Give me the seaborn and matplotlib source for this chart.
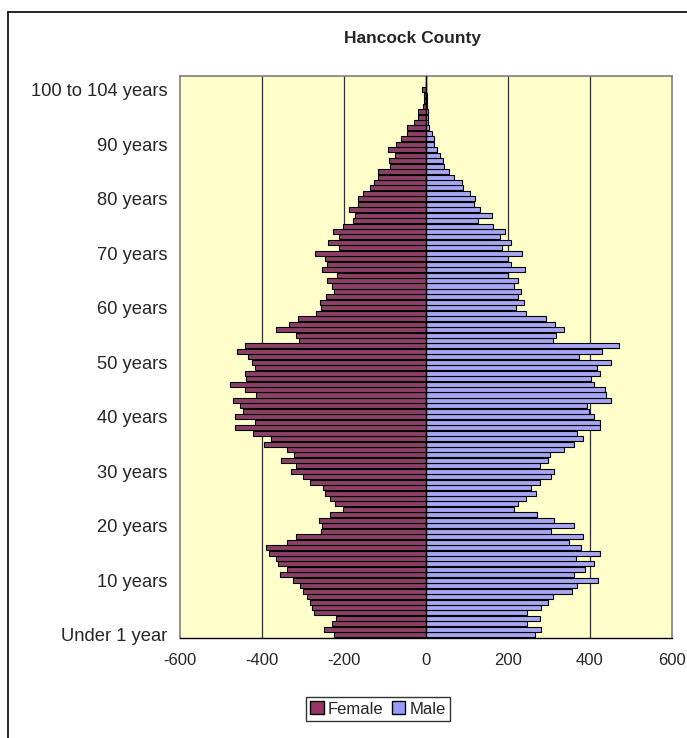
import matplotlib
matplotlib.use("Agg")
import matplotlib.pyplot as plt
from matplotlib.lines import Line2D
from matplotlib.patches import Patch
import numpy as np
import pandas as pd
import seaborn as sns

# Age categories: single years 0-99, then grouped upper ages
age_labels = (["Under 1 year", "1 year"] + [f"{a} years" for a in range(2, 100)]
              + ["100 to 104 years", "105 to 109 years", "110 years and over"])

female = [224, 248, 230, 220, 274, 277, 284, 291, 299, 308,
          324, 357, 340, 360, 367, 382, 390, 338, 316, 255,
          254, 261, 235, 203, 221, 235, 247, 252, 284, 299,
          330, 316, 353, 323, 338, 394, 379, 421, 465, 416,
          466, 446, 454, 470, 415, 441, 477, 438, 441, 416,
          424, 433, 460, 441, 310, 317, 365, 334, 311, 268,
          255, 259, 245, 224, 230, 242, 218, 253, 241, 247,
          271, 211, 239, 211, 227, 202, 179, 172, 189, 166,
          166, 153, 137, 128, 116, 116, 88, 91, 75, 93,
          72, 62, 47, 47, 29, 20, 20, 7, 5, 6,
          10, 0, 0]

male = [267, 281, 246, 277, 246, 281, 297, 309, 356, 368,
        419, 361, 387, 410, 365, 425, 378, 348, 384, 306,
        362, 311, 270, 214, 224, 243, 268, 257, 279, 304,
        312, 277, 298, 303, 337, 361, 382, 368, 425, 425,
        409, 397, 392, 451, 438, 436, 409, 402, 424, 416,
        451, 372, 429, 471, 309, 316, 336, 315, 292, 243,
        220, 238, 225, 231, 214, 225, 201, 242, 207, 200,
        235, 185, 207, 181, 193, 163, 126, 160, 131, 118,
        120, 107, 90, 87, 69, 56, 44, 42, 35, 27,
        20, 20, 15, 8, 6, 5, 4, 3, 2, 2,
        1, 0, 0]

x_ticks = [-600, -400, -200, 0, 200, 400, 600]

n = len(age_labels)
pos = np.arange(n)
df = pd.DataFrame({
    "pos": np.concatenate([pos, pos]),
    "value": np.concatenate([-np.array(female), np.array(male)]),
    "sex": ["Female"] * n + ["Male"] * n,
})

sns.set_style("white")
plt.rcParams["font.family"] = ["Liberation Sans", "DejaVu Sans"]

colors = {"Female": "#993366", "Male": "#9999FF"}

fig = plt.figure(figsize=(6.87, 7.38), dpi=100)
ax = fig.add_axes([180 / 687, 1 - 637.5 / 738, 492 / 687, (637.5 - 76.2) / 738])
ax.set_facecolor("#FFFFCC")

sns.barplot(data=df, x="value", y="pos", hue="sex", orient="h", native_scale=True,
            dodge=False, palette=colors, width=0.92, edgecolor="black",
            linewidth=0.8, legend=False, ax=ax, zorder=3)

ax.set_xlim(-600, 600)
ax.set_ylim(-0.5, n - 0.5)
ax.set_xticks(x_ticks)
ax.set_xticklabels([str(t) for t in x_ticks], fontsize=12)
ytick_idx = list(range(0, 101, 10))
ax.set_yticks(ytick_idx)
ax.set_yticklabels([age_labels[i] for i in ytick_idx], fontsize=13.2)
ax.tick_params(axis="y", length=0, pad=9)
ax.tick_params(axis="x", length=5, width=1, color="black", direction="out", pad=6)
ax.set_xlabel("")
ax.set_ylabel("")

for t in x_ticks[1:-1]:
    ax.axvline(t, color="#303030", lw=0.9, zorder=1)
ax.axvline(0, color="black", lw=1.0, zorder=4)

for side in ["left", "right", "top"]:
    ax.spines[side].set_color("#808080")
    ax.spines[side].set_linewidth(1.2)
ax.spines["bottom"].set_color("black")
ax.spines["bottom"].set_linewidth(1.0)

fig.text(413 / 687, 1 - 38 / 738, "Hancock County", ha="center", va="center",
         fontsize=12.5, fontweight="bold")

handles = [Patch(facecolor=colors["Female"], edgecolor="black", label="Female"),
           Patch(facecolor=colors["Male"], edgecolor="black", label="Male")]
leg = fig.legend(handles=handles, loc="center", bbox_to_anchor=(378 / 687, 1 - 709 / 738),
                 ncol=2, fontsize=12, frameon=True, fancybox=False, handlelength=0.8,
                 handleheight=0.8, handletextpad=0.25, columnspacing=0.5,
                 borderpad=0.25, borderaxespad=0)
leg.get_frame().set_edgecolor("black")
leg.get_frame().set_linewidth(1.0)

# chart area border
fig.add_artist(Line2D([8 / 687, 8 / 687], [0, 1 - 12 / 738], color="black", lw=1.2))
fig.add_artist(Line2D([8 / 687, 1], [1 - 12 / 738, 1 - 12 / 738], color="black", lw=1.2))

fig.savefig("out.png", dpi=100)
